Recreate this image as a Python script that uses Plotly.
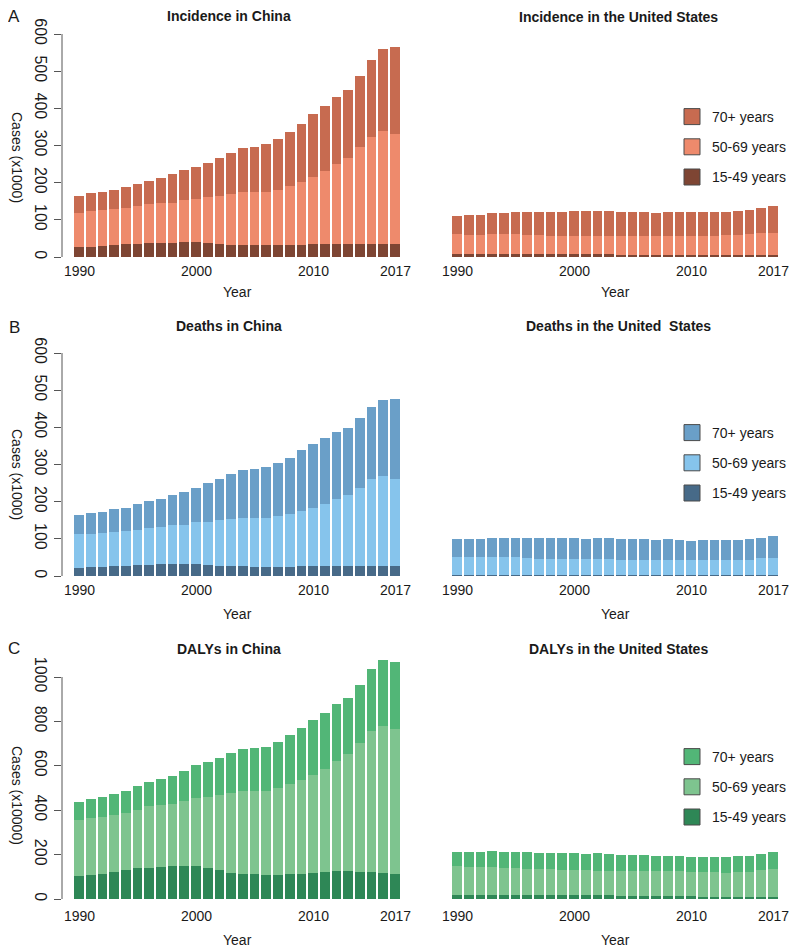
import plotly.graph_objects as go

years = list(range(1990, 2018))
age_groups = ["15-49 years", "50-69 years", "70+ years"]

# Incidence (x1000)
inc_cn_15_49 = [28,28,30,32,34,36,39,39,39,40,40,39,35,32,32,31,31,31,31,32,34,36,36,36,36,36,36,36]
inc_cn_50_69 = [91,95,96,96,98,101,104,105,107,114,116,122,130,138,142,145,145,150,161,171,182,195,213,231,259,287,303,296]
inc_cn_70 = [45,48,49,53,56,60,62,69,77,79,87,92,101,110,120,121,128,136,145,155,168,176,181,183,192,208,220,232]
inc_us_15_49 = [7,7,7,7,7,7,7,7,7,7,7,7,7,7,5,5,5,5,5,5,5,5,5,5,5,5,5,5]
inc_us_50_69 = [55,53,53,55,55,55,53,51,50,50,50,50,50,50,52,52,52,52,52,52,52,52,52,53,55,56,60,60]
inc_us_70 = [48,52,52,57,57,59,61,63,64,64,66,66,66,66,64,64,64,62,64,64,64,64,64,63,63,65,67,72]

# Deaths (x1000)
dth_cn_15_49 = [22,24,24,26,28,30,30,31,31,31,31,30,28,26,26,24,24,24,24,26,28,28,28,28,28,28,26,26]
dth_cn_50_69 = [90,90,93,93,92,95,99,100,105,107,113,116,123,128,130,132,132,137,143,150,156,167,179,191,210,232,242,235]
dth_cn_70 = [52,55,56,60,63,69,74,77,81,87,94,104,109,120,129,132,137,142,151,162,170,177,181,180,186,195,206,216]
dth_us_15_49 = [4,4,4,4,4,4,4,4,4,4,4,4,4,4,3,3,3,3,3,3,3,3,3,3,3,3,3,3]
dth_us_50_69 = [48,48,46,46,46,46,44,42,42,42,42,42,42,42,41,41,41,41,41,41,41,41,41,41,41,41,45,45]
dth_us_70 = [47,47,49,51,51,52,53,55,55,55,55,53,55,55,55,55,55,53,55,53,50,53,53,53,53,55,54,59]

# DALYs (x10000)
daly_cn_15_49 = [104,107,114,122,129,138,141,146,150,150,150,140,129,119,114,111,107,107,111,114,119,122,125,125,122,122,119,114]
daly_cn_50_69 = [250,258,257,256,260,264,276,277,279,291,305,321,341,360,372,377,379,395,406,421,441,464,495,528,579,633,660,652]
daly_cn_70 = [81,84,88,96,99,107,109,118,127,134,147,155,165,177,191,192,197,207,220,234,245,253,258,254,264,283,296,302]
daly_us_15_49 = [20,20,20,20,20,19,18,18,17,17,17,17,16,16,15,15,15,13,13,12,12,11,11,11,11,11,11,11]
daly_us_50_69 = [127,124,124,124,121,122,119,116,117,114,114,114,112,112,110,110,110,112,112,113,110,111,111,106,111,111,120,123]
daly_us_70 = [66,69,66,74,72,72,73,72,72,75,75,72,78,75,75,75,75,70,70,70,66,66,66,71,70,70,72,76]

x_ticks = [1990, 2000, 2010, 2017]

W, H = 800, 950
OFF = 8  # page body margin offset
FONT = "Liberation Sans, Arial, Helvetica, sans-serif"
TXT = "#1a1a1a"

def px(x):
    return (x - OFF) / W

def py(y):
    return 1 - (y - OFF) / H

panels = [
    dict(letter="A", cn=(inc_cn_15_49, inc_cn_50_69, inc_cn_70), us=(inc_us_15_49, inc_us_50_69, inc_us_70),
         colors=("#7e4533", "#ee8a6c", "#c76b50"),
         t_cn="Incidence in China", t_us="Incidence in the United States",
         ytitle="Cases (x1000)", y0=257, ytop=34, rng=[0, 600], ytick=list(range(0, 601, 100)), yline=600,
         title_y=(16, 17), letter_y=17, tick_y=271, year_y=292, ytitle_y=157, leg_top=101),
    dict(letter="B", cn=(dth_cn_15_49, dth_cn_50_69, dth_cn_70), us=(dth_us_15_49, dth_us_50_69, dth_us_70),
         colors=("#476a88", "#86c4ec", "#6a9fc8"),
         t_cn="Deaths in China", t_us="Deaths in the United  States",
         ytitle="Cases (x1000)", y0=576, ytop=353, rng=[0, 600], ytick=list(range(0, 601, 100)), yline=600,
         title_y=(326, 326), letter_y=327, tick_y=590, year_y=614, ytitle_y=474, leg_top=417),
    dict(letter="C", cn=(daly_cn_15_49, daly_cn_50_69, daly_cn_70), us=(daly_us_15_49, daly_us_50_69, daly_us_70),
         colors=("#2e8756", "#7ec48f", "#52b677"),
         t_cn="DALYs in China", t_us="DALYs in the United States",
         ytitle="Cases (x10000)", y0=899, ytop=899 - 0.222 * 1090, rng=[0, 1090], ytick=list(range(0, 1001, 200)), yline=1000,
         title_y=(649, 649), letter_y=648, tick_y=916, year_y=940, ytitle_y=795, leg_top=741),
]

fig = go.Figure()
annotations = []
shapes = []
layout_axes = {}

cn_dom = [px(62), px(405)]
us_dom = [px(445), px(785)]
cn_rng = [1990 - 17 / 11.7, 2017 + 10 / 11.7]
us_rng = [1990 - 12 / 11.7, 2017 + 12 / 11.7]

for i, p in enumerate(panels):
    ia = 2 * i + 1
    ib = 2 * i + 2
    xa_cn = "x" if ia == 1 else f"x{ia}"
    ya_cn = "y" if ia == 1 else f"y{ia}"
    xa_us, ya_us = f"x{ib}", f"y{ib}"
    leg = "legend" if i == 0 else f"legend{i + 1}"

    for vals, name, col in zip(p["cn"], age_groups, p["colors"]):
        fig.add_trace(go.Bar(x=years, y=vals, name=name, marker=dict(color=col, line=dict(width=0)),
                             width=0.83, xaxis=xa_cn, yaxis=ya_cn, showlegend=False))
    for vals, name, col in zip(p["us"], age_groups, p["colors"]):
        fig.add_trace(go.Bar(x=years, y=vals, name=name, marker=dict(color=col, line=dict(width=0)),
                             width=0.83, xaxis=xa_us, yaxis=ya_us, showlegend=False))
    # legend entries (70+ first)
    for name, col in reversed(list(zip(age_groups, p["colors"]))):
        fig.add_trace(go.Scatter(x=[None], y=[None], mode="markers", name=name,
                                 marker=dict(symbol="square", size=16, color=col,
                                             line=dict(color="#4a4a4a", width=1)),
                                 xaxis=xa_us, yaxis=ya_us, legend=leg, legendgroup=f"{leg}_{name}",
                                 showlegend=True))

    ydom = [py(p["y0"]), py(p["ytop"])]
    xkey_cn = "xaxis" if ia == 1 else f"xaxis{ia}"
    ykey_cn = "yaxis" if ia == 1 else f"yaxis{ia}"
    layout_axes[xkey_cn] = dict(domain=cn_dom, range=cn_rng, anchor=ya_cn, tickvals=x_ticks,
                                showgrid=False, zeroline=False, showline=False, ticks="",
                                showticklabels=False, automargin=False)
    layout_axes[ykey_cn] = dict(domain=ydom, range=p["rng"], anchor=xa_cn, tickvals=p["ytick"],
                                showgrid=False, zeroline=False, showline=False, ticks="outside",
                                ticklen=7, tickcolor="#555555", tickwidth=1, tickangle=90,
                                tickfont=dict(size=16, color=TXT, family=FONT), automargin=False)
    layout_axes[f"xaxis{ib}"] = dict(domain=us_dom, range=us_rng, anchor=ya_us, tickvals=x_ticks,
                                     showgrid=False, zeroline=False, showline=False, ticks="",
                                     showticklabels=False, automargin=False)
    layout_axes[f"yaxis{ib}"] = dict(domain=ydom, range=p["rng"], anchor=xa_us, visible=False,
                                     automargin=False)

    # y axis line (R style, spans first to last tick)
    shapes.append(dict(type="line", xref=f"{xa_cn} domain", yref=ya_cn, x0=0, x1=0,
                       y0=0, y1=p["yline"], line=dict(color="#555555", width=1)))

    # x tick labels under the year positions
    for xa in (xa_cn, xa_us):
        for t in x_ticks:
            annotations.append(dict(x=t, xref=xa, y=py(p["tick_y"]), yref="paper", text=str(t),
                                    showarrow=False, xanchor="center", yanchor="middle",
                                    font=dict(size=14, color=TXT, family=FONT)))

    # titles
    annotations.append(dict(x=px(229), y=py(p["title_y"][0]), xref="paper", yref="paper",
                            text=f"<b>{p['t_cn']}</b>", showarrow=False, xanchor="center", yanchor="middle",
                            font=dict(size=14, color=TXT, family=FONT)))
    annotations.append(dict(x=px(618), y=py(p["title_y"][1]), xref="paper", yref="paper",
                            text=f"<b>{p['t_us']}</b>", showarrow=False, xanchor="center", yanchor="middle",
                            font=dict(size=14, color=TXT, family=FONT)))
    # panel letter
    annotations.append(dict(x=px(14), y=py(p["letter_y"]), xref="paper", yref="paper",
                            text=p["letter"], showarrow=False, xanchor="center", yanchor="middle",
                            font=dict(size=17, color=TXT, family=FONT)))
    # Year labels
    for xc in (237, 615):
        annotations.append(dict(x=px(xc), y=py(p["year_y"]), xref="paper", yref="paper",
                                text="Year", showarrow=False, xanchor="center", yanchor="middle",
                                font=dict(size=14, color=TXT, family=FONT)))
    # y title
    annotations.append(dict(x=px(17), y=py(p["ytitle_y"]), xref="paper", yref="paper",
                            text=p["ytitle"], showarrow=False, xanchor="center", yanchor="middle",
                            textangle=90, font=dict(size=14, color=TXT, family=FONT)))

    layout_axes[leg] = dict(x=px(672), y=py(p["leg_top"]), xanchor="left", yanchor="top",
                            traceorder="grouped", tracegroupgap=9, bgcolor="rgba(0,0,0,0)",
                            font=dict(size=14, color=TXT, family=FONT), itemclick=False,
                            itemdoubleclick=False)

fig.update_layout(
    width=W, height=H,
    margin=dict(l=0, r=0, t=0, b=0, autoexpand=False),
    paper_bgcolor="white", plot_bgcolor="white",
    barmode="stack",
    font=dict(family=FONT, color=TXT),
    annotations=annotations,
    shapes=shapes,
    **layout_axes,
)

fig.write_html("out.html")
